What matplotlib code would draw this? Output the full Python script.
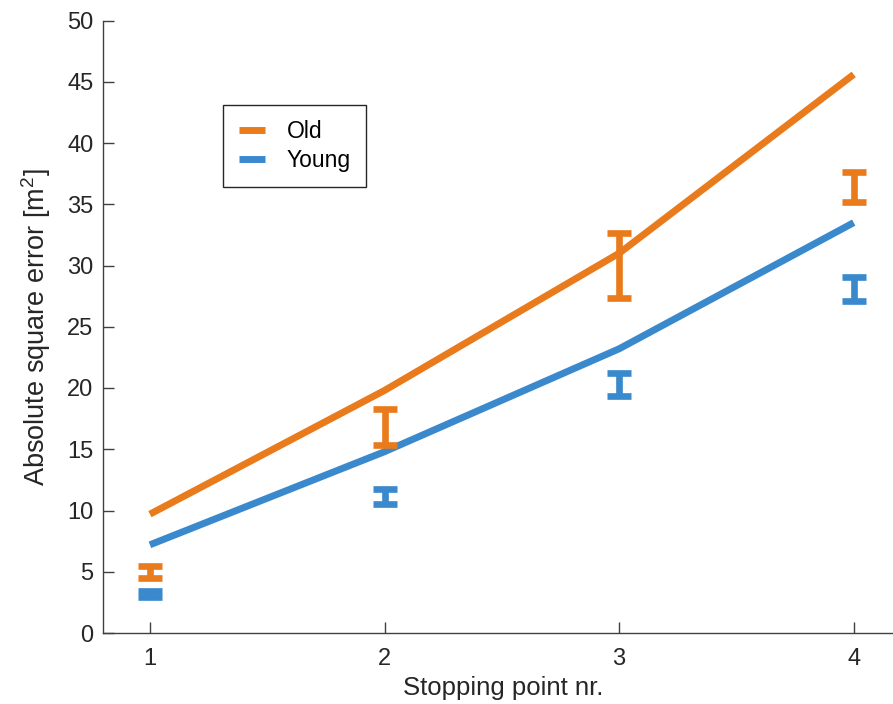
import matplotlib
matplotlib.use("Agg")
import matplotlib.pyplot as plt

# Mean absolute square error per stopping point
stops = [1, 2, 3, 4]
old_line = [9.7, 19.8, 31.0, 45.6]
young_line = [7.2, 14.8, 23.2, 33.5]

# Observed means with error half-widths
old_mean = [4.98, 16.8, 29.97, 36.4]
old_err = [0.49, 1.49, 2.66, 1.23]
young_mean = [3.18, 11.13, 20.3, 28.08]
young_err = [0.25, 0.61, 0.94, 1.0]

ORANGE = "#EA7B1C"
BLUE = "#3A89CD"
GREY = "#404040"
TEXT = "#262626"

plt.rcParams["font.family"] = ["Liberation Sans", "DejaVu Sans"]
plt.rcParams["mathtext.default"] = "regular"

fig = plt.figure(figsize=(8.93, 7.04), dpi=100)
ax = fig.add_axes([103 / 893, 71 / 704, 800 / 893, 612.5 / 704])

ax.plot(stops, old_line, color=ORANGE, lw=5, label="Old", solid_capstyle="butt")
ax.plot(stops, young_line, color=BLUE, lw=5, label="Young", solid_capstyle="butt")

ax.errorbar(stops, old_mean, yerr=old_err, fmt="none", ecolor=ORANGE,
            elinewidth=4.8, capsize=8.6, capthick=4.8)
ax.errorbar(stops, young_mean, yerr=young_err, fmt="none", ecolor=BLUE,
            elinewidth=4.8, capsize=8.6, capthick=4.8)

ax.set_xlim(0.8, 4.21)
ax.set_ylim(0, 50)
ax.set_xticks(stops)
ax.set_yticks(range(0, 51, 5))

for side in ("top", "right"):
    ax.spines[side].set_visible(False)
for side in ("left", "bottom"):
    ax.spines[side].set_color(GREY)
    ax.spines[side].set_linewidth(1.0)

ax.tick_params(direction="in", length=8, width=1.0, color=GREY,
               labelsize=17, labelcolor=TEXT)
ax.tick_params(axis="x", pad=11)
ax.tick_params(axis="y", pad=7)

ax.set_xlabel("Stopping point nr.", fontsize=18.5, color=TEXT, labelpad=4)
ax.set_ylabel("Absolute square error [m$^2$]", fontsize=19.5, color=TEXT, labelpad=10)

leg = ax.legend(loc="upper left", bbox_to_anchor=(0.1506, 0.8627),
                borderaxespad=0, fancybox=False, fontsize=16.5,
                handlelength=1.15, handletextpad=0.95, labelspacing=0.28,
                borderpad=0.66, framealpha=1)
leg.get_frame().set_edgecolor(TEXT)
leg.get_frame().set_linewidth(1.0)

fig.savefig("out.png", dpi=100)
